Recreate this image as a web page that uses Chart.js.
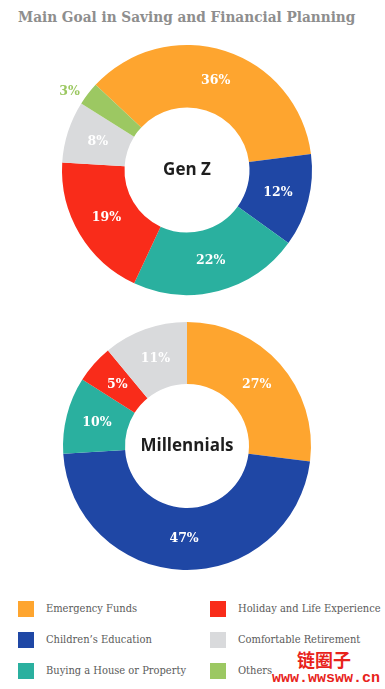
<!DOCTYPE html>
<html>
<head>
<meta charset="utf-8">
<script src="https://cdn.jsdelivr.net/npm/chart.js@4.4.0/dist/chart.umd.min.js"></script>
<style>
body{margin:0;background:#fff;width:385px;height:689px;position:relative;overflow:hidden;}
#title{position:absolute;left:18px;top:8px;font-family:"DejaVu Serif";font-stretch:condensed;font-weight:bold;font-size:15.2px;color:#8e8e8e;white-space:nowrap;}
#genzChart{position:absolute;left:42px;top:25px;}
#milChart{position:absolute;left:43px;top:302px;}
.legend-item{position:absolute;height:16px;font-family:"DejaVu Serif";font-stretch:condensed;font-size:11px;color:#5a5a5a;white-space:nowrap;}
.legend-item .box{position:absolute;left:0;top:0;width:16px;height:16px;}
.legend-item .lbl{position:absolute;left:28px;top:1px;line-height:14px;}
#wm1{position:absolute;left:297px;top:648px;font-family:"Noto Sans CJK SC";font-weight:bold;font-size:18px;color:#e8231b;line-height:22px;}
#wm2{position:absolute;left:272px;top:672px;font-family:"Liberation Mono";font-weight:bold;font-size:15px;color:#e8231b;line-height:14px;}
</style>
</head>
<body>
<div id="title">Main Goal in Saving and Financial Planning</div>
<canvas id="genzChart" width="290" height="290"></canvas>
<canvas id="milChart" width="288" height="288"></canvas>
<div id="legend"></div>
<div id="wm1">链圈子</div>
<div id="wm2">www.wwsww.cn</div>
<script>
// categories and values (percent)
var categories = ["Emergency Funds","Children’s Education","Buying a House or Property","Holiday and Life Experience","Comfortable Retirement","Others"];
var colors     = ["#FEA52F","#1F47A5","#2AB09F","#F92C1A","#D9DADC","#9CC862"];
var genZ       = [36,12,22,19,8,3];
var millennials = [27,47,10,5,11,0];

// draws the % labels on each slice (small ones go outside)
var pctLabels = {
  id: 'pctLabels',
  afterDatasetsDraw: function(chart){
    var ctx = chart.ctx;
    var meta = chart.getDatasetMeta(0);
    var ds = chart.data.datasets[0];
    ctx.save();
    ctx.font = 'bold 12.5px "DejaVu Serif"';
    ctx.textAlign = 'center';
    ctx.textBaseline = 'middle';
    meta.data.forEach(function(arc,i){
      var v = ds.data[i];
      if(!v) return;
      var p = arc.getProps(['x','y','startAngle','endAngle','innerRadius','outerRadius'], true);
      var mid = (p.startAngle + p.endAngle)/2;
      var r = (p.innerRadius + p.outerRadius)/2;
      var col = '#ffffff';
      if(v < 4){
        r = p.outerRadius + 16;
        mid = mid - 0.07;
        col = ds.backgroundColor[i];
      }
      ctx.fillStyle = col;
      ctx.fillText(v + '%', p.x + Math.cos(mid)*r, p.y + Math.sin(mid)*r);
    });
    ctx.restore();
  }
};

// the name in the hole
var centerText = {
  id: 'centerText',
  afterDraw: function(chart, args, opts){
    var ctx = chart.ctx;
    var arc = chart.getDatasetMeta(0).data[0];
    ctx.save();
    ctx.font = 'bold 17px "Open Sans"';
    ctx.fillStyle = '#1e1e1e';
    ctx.textAlign = 'center';
    ctx.textBaseline = 'middle';
    ctx.fillText(opts.text, arc.x, arc.y);
    ctx.restore();
  }
};

function makeDonut(id, values, label, rot){
  return new Chart(document.getElementById(id), {
    type: 'doughnut',
    data: {
      labels: categories,
      datasets: [{
        data: values,
        backgroundColor: colors,
        borderWidth: 0
      }]
    },
    options: {
      responsive: false,
      animation: false,
      events: [],
      cutout: '50%',
      rotation: rot,
      layout: { padding: 20 },
      plugins: {
        legend: { display: false },
        tooltip: { enabled: false },
        centerText: { text: label }
      }
    },
    plugins: [pctLabels, centerText]
  });
}

var genzChart = makeDonut('genzChart', genZ, 'Gen Z', -47);
var milChart  = makeDonut('milChart', millennials, 'Millennials', 0);

// legend, two columns of three
var html = '';
categories.forEach(function(c,i){
  var col = Math.floor(i/3), row = i % 3;
  var left = col == 0 ? 18 : 210;
  var top = 601 + row*31;
  html += "<div class='legend-item' style='left:" + left + "px;top:" + top + "px'>";
  html += "<div class='box' style='background:" + colors[i] + "'></div>";
  html += "<div class='lbl'>" + c + "</div></div>";
});
document.getElementById('legend').innerHTML = html;
</script>
</body>
</html>
